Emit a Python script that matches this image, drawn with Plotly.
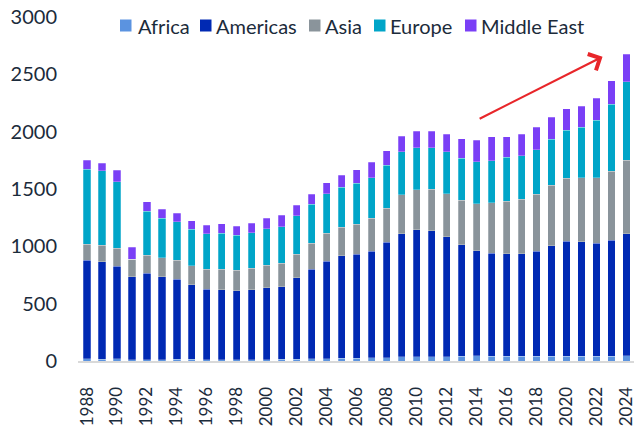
import plotly.graph_objects as go

years = list(range(1988, 2025))
tick_years = list(range(1988, 2025, 2))

africa = [18, 17, 18, 12, 12, 12, 15, 14, 11, 11, 12, 12, 13, 14, 17, 18, 20, 22, 24, 27,
          30, 35, 36, 36, 38, 42, 44, 43, 42, 41, 41, 42, 41, 40, 40, 42, 45]
americas = [862, 849, 810, 723, 752, 723, 697, 651, 614, 611, 601, 608, 626, 634, 709, 784,
            852, 896, 909, 932, 1007, 1075, 1109, 1099, 1046, 972, 918, 896, 894, 895, 915,
            963, 1005, 1000, 986, 1013, 1065]
asia = [137, 142, 154, 154, 160, 166, 165, 166, 177, 180, 177, 190, 198, 203, 207, 223, 241,
        247, 261, 285, 297, 339, 349, 362, 375, 390, 410, 439, 456, 474, 497, 526, 547, 559,
        573, 599, 642]
europe = [656, 651, 581, 0, 380, 343, 338, 317, 308, 311, 305, 309, 317, 321, 332, 341, 346,
          349, 355, 356, 372, 378, 366, 363, 366, 363, 366, 369, 384, 380, 390, 404, 421, 438,
          502, 583, 685]
middle_east = [79, 67, 99, 105, 85, 81, 75, 73, 76, 82, 82, 81, 93, 98, 95, 90, 96, 105, 119,
               132, 128, 135, 142, 144, 154, 172, 189, 209, 180, 189, 194, 189, 186, 186, 192,
               207, 240]

series_names = ["Africa", "Americas", "Asia", "Europe", "Middle East"]
series_values = [africa, americas, asia, europe, middle_east]
series_colors = ["#5b93e0", "#0029b3", "#8a949b", "#00a5c8", "#7a3ff6"]

# legend layout (pixel positions within the page)
legend_square_x = [120, 200, 309, 374, 465]
legend_text_x = [136, 214, 323, 388, 479]

FONT = "Lato"
TXT = "#1b2b3b"

W, H = 634, 426
ML, MR, MT, MB = 78, 0, 17, 65
PW, PH = W - ML - MR, H - MT - MB


def px_x(X):
    return (X - ML) / PW


def px_y(Y):
    return (H - MB - Y) / PH


fig = go.Figure()
for name, vals, col in zip(series_names, series_values, series_colors):
    fig.add_trace(go.Bar(
        x=years, y=vals, name=name, marker_color=col,
        marker_line_color="rgba(255,255,255,0.5)", marker_line_width=0.5,
        showlegend=False,
    ))

# custom legend
for name, col, sx, tx in zip(series_names, series_colors, legend_square_x, legend_text_x):
    fig.add_shape(type="rect", xref="paper", yref="paper",
                  x0=px_x(sx), x1=px_x(sx + 11.5), y0=px_y(31.5), y1=px_y(19.5),
                  fillcolor=col, line_width=0, layer="above")
    fig.add_annotation(xref="paper", yref="paper", x=px_x(tx), y=px_y(26),
                       xanchor="left", yanchor="middle", text=name, showarrow=False,
                       font=dict(size=20, family=FONT, color=TXT))

fig.add_annotation(
    x=2022.4, y=2653, ax=2014.1, ay=2107,
    xref="x", yref="y", axref="x", ayref="y",
    text="", showarrow=True, arrowhead=4, arrowsize=1.6, arrowwidth=2.2,
    arrowcolor="#e8262a",
)

fig.update_layout(
    width=W, height=H,
    barmode="stack", bargap=0.52,
    paper_bgcolor="white", plot_bgcolor="white",
    margin=dict(l=ML, r=MR, t=MT, b=MB, autoexpand=False),
    font=dict(family=FONT, color=TXT),
    showlegend=False,
    xaxis=dict(
        range=[1987.4, 2024.5],
        tickmode="array", tickvals=tick_years, ticktext=[str(y) for y in tick_years],
        tickangle=-90, tickfont=dict(size=17, family=FONT, color=TXT),
        showgrid=False, zeroline=False,
        showline=True, linecolor="#d9d9d9", linewidth=2,
        ticks="outside", ticklen=17, tickcolor="rgba(0,0,0,0)",
        ticklabeloverflow="allow", automargin=False,
    ),
    yaxis=dict(
        range=[0, 3000], tickvals=[0, 500, 1000, 1500, 2000, 2500, 3000],
        tickfont=dict(size=20, family=FONT, color=TXT),
        showgrid=False, zeroline=False, showline=False,
        ticks="", ticklabelstandoff=20, ticklabeloverflow="allow", automargin=False,
    ),
)

fig.write_html(
    "out.html",
    config={"displayModeBar": False},
    post_script="document.body.style.margin='0';document.body.style.overflow='hidden';",
)
